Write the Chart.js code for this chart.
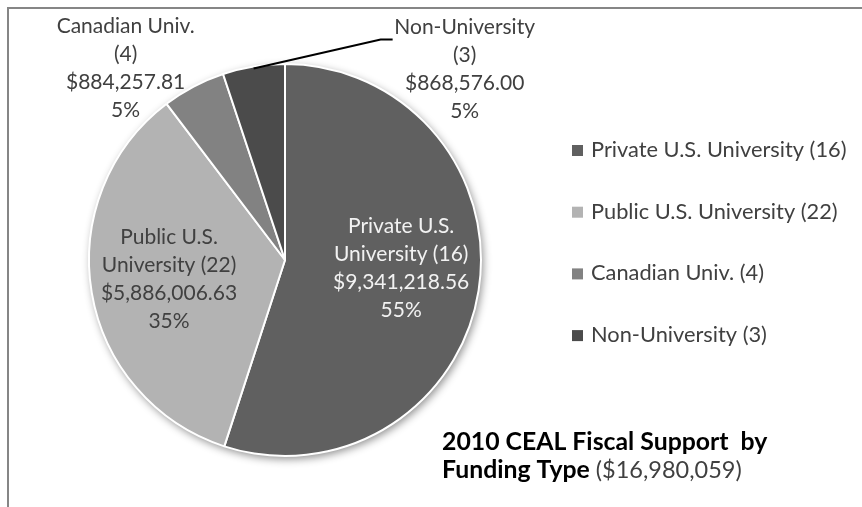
<!DOCTYPE html>
<html>
<head>
<meta charset="utf-8">
<script src="https://cdn.jsdelivr.net/npm/chart.js@4.4.0/dist/chart.umd.min.js"></script>
<style>
  html, body { margin: 0; padding: 0; background: #fff; }
  #wrap { width: 862px; height: 507px; }
</style>
</head>
<body>
<div id="wrap"><canvas id="pieChart" width="862" height="507"></canvas></div>
<script>
// chart data
const categories = ['Private U.S. University', 'Public U.S. University', 'Canadian Univ.', 'Non-University'];
const counts = [16, 22, 4, 3];
const amounts = [9341218.56, 5886006.63, 884257.81, 868576.00];
const labelLines = [['Private U.S.', 'University (16)'], ['Public U.S.', 'University (22)'], ['Canadian Univ.', '(4)'], ['Non-University', '(3)']];
const sliceColors = ['#606060', '#b3b3b3', '#828282', '#4b4b4b'];
const titleBold = ['2010 CEAL Fiscal Support  by', 'Funding Type'];
const titleTotal = '($16,980,059)';

const FONT = 'Lato, "Open Sans", sans-serif';
const total = amounts.reduce((a, b) => a + b, 0);

function money(v) {
  return '$' + v.toLocaleString('en-US', { minimumFractionDigits: 2, maximumFractionDigits: 2 });
}

// gray frame (top + left edges only show in the crop)
const framePlugin = {
  id: 'frame',
  beforeDraw(chart) {
    const ctx = chart.ctx;
    ctx.save();
    ctx.strokeStyle = '#868686';
    ctx.lineWidth = 2;
    ctx.beginPath();
    ctx.moveTo(8, chart.height);
    ctx.lineTo(8, 8);
    ctx.lineTo(chart.width, 8);
    ctx.stroke();
    ctx.restore();
  }
};

// soft shadow behind the pie
const shadowPlugin = {
  id: 'pieShadow',
  beforeDatasetsDraw(chart) {
    const arc = chart.getDatasetMeta(0).data[0];
    if (!arc) return;
    const ctx = chart.ctx;
    ctx.save();
    ctx.shadowColor = 'rgba(0,0,0,0.45)';
    ctx.shadowBlur = 9;
    ctx.shadowOffsetX = 2;
    ctx.shadowOffsetY = 3;
    ctx.fillStyle = '#ffffff';
    ctx.beginPath();
    ctx.arc(arc.x, arc.y, arc.outerRadius, 0, Math.PI * 2);
    ctx.fill();
    ctx.restore();
  }
};

// slice labels, Excel style
const labelPlugin = {
  id: 'sliceLabels',
  afterDatasetsDraw(chart) {
    const ctx = chart.ctx;
    const arcs = chart.getDatasetMeta(0).data;
    ctx.save();
    ctx.font = '21px ' + FONT;
    ctx.textAlign = 'center';
    ctx.textBaseline = 'middle';
    const lh = 28;

    arcs.forEach((arc, i) => {
      const mid = (arc.startAngle + arc.endAngle) / 2;
      const lines = labelLines[i].concat([money(amounts[i]), Math.round(amounts[i] / total * 100) + '%']);
      let cx, cy;
      const ox = arc.x + Math.cos(mid) * arc.outerRadius;
      const oy = arc.y + Math.sin(mid) * arc.outerRadius;
      if (i < 2) {
        cx = arc.x + Math.cos(mid) * arc.outerRadius * 0.6;
        cy = arc.y + Math.sin(mid) * arc.outerRadius * 0.6;
        if (i === 0) cy -= 10;
      } else if (i === 2) {
        cx = ox - 68;
        cy = oy - 18;
      } else {
        cx = ox + 211;
        cy = oy + 3;
        // leader line
        ctx.strokeStyle = '#000';
        ctx.lineWidth = 2;
        ctx.beginPath();
        ctx.moveTo(ox, oy + 2);
        ctx.lineTo(ox + 127, oy - 27);
        ctx.lineTo(ox + 139, oy - 27);
        ctx.stroke();
      }
      ctx.fillStyle = i === 0 ? '#f2f2f2' : '#404040';
      const top = cy - (lines.length - 1) * lh / 2;
      lines.forEach((t, k) => ctx.fillText(t, cx, top + k * lh));
    });
    ctx.restore();
  }
};

// legend + title on the right
const sideTextPlugin = {
  id: 'sideText',
  afterDraw(chart) {
    const ctx = chart.ctx;
    ctx.save();
    ctx.textBaseline = 'middle';
    ctx.textAlign = 'left';
    ctx.font = '21.8px ' + FONT;
    categories.forEach((c, i) => {
      const y = 150 + i * 61.7;
      ctx.fillStyle = sliceColors[i];
      ctx.fillRect(572, y - 5, 11, 11);
      ctx.fillStyle = '#404040';
      ctx.fillText(c + ' (' + counts[i] + ')', 591, y);
    });

    ctx.fillStyle = '#000';
    ctx.font = 'bold 24.8px ' + FONT;
    ctx.fillText(titleBold[0], 442, 442);
    ctx.fillText(titleBold[1], 442, 470);
    const w = ctx.measureText(titleBold[1] + ' ').width;
    ctx.font = '23.5px ' + FONT;
    ctx.fillStyle = '#404040';
    ctx.fillText(titleTotal, 442 + w, 470);
    ctx.restore();
  }
};

new Chart(document.getElementById('pieChart'), {
  type: 'pie',
  data: {
    labels: categories,
    datasets: [{
      data: amounts,
      backgroundColor: sliceColors,
      borderColor: '#ffffff',
      borderWidth: 2
    }]
  },
  options: {
    responsive: false,
    animation: false,
    layout: { padding: { left: 88, top: 63, right: 380, bottom: 50 } },
    plugins: {
      legend: { display: false },
      tooltip: { enabled: false }
    }
  },
  plugins: [framePlugin, shadowPlugin, labelPlugin, sideTextPlugin]
});
</script>
</body>
</html>
